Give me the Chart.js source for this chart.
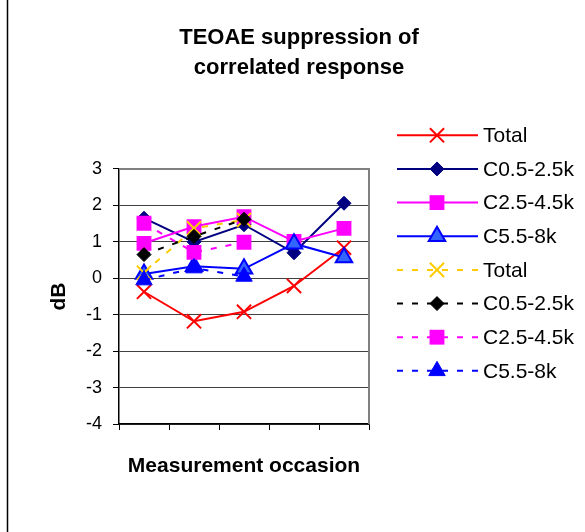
<!DOCTYPE html>
<html>
<head>
<meta charset="utf-8">
<script src="https://cdn.jsdelivr.net/npm/chart.js@4/dist/chart.umd.min.js"></script>
<style>
  html, body { margin: 0; padding: 0; background: #ffffff; }
  #wrap { width: 585px; height: 532px; position: relative; }
</style>
</head>
<body>
<div id="wrap"><canvas id="c" width="585" height="532"></canvas></div>
<script>
// ---- data ----
const categories = ['1', '2', '3', '4', '5'];
const yTicks = [-4, -3, -2, -1, 0, 1, 2, 3];
const seriesLabels = ['Total', 'C0.5-2.5k', 'C2.5-4.5k', 'C5.5-8k', 'Total', 'C0.5-2.5k', 'C2.5-4.5k', 'C5.5-8k'];

// solid series (5 occasions)
const totalA = [-0.37, -1.18, -0.92, -0.21, 0.84];
const c05A   = [1.65, 1.00, 1.47, 0.70, 2.06];
const c25A   = [0.96, 1.42, 1.69, 1.01, 1.37];
const c55A   = [0.12, 0.33, 0.26, 0.95, 0.57];
// dashed series (3 occasions)
const totalB = [0.15, 1.37, 1.60];
const c05B   = [0.65, 1.15, 1.62];
const c25B   = [1.51, 0.71, 0.99];
const c55B   = [-0.05, 0.28, 0.05];

const FONT = "'Liberation Sans', Arial, Helvetica, sans-serif";
const DASH = [6, 9];

function ds(label, data, color, style, radius, fill, dashed, order, borderCol, bw) {
  return {
    label: label,
    data: data,
    borderColor: color,
    borderWidth: 2,
    borderDash: dashed ? DASH : [],
    pointStyle: style,
    pointRadius: radius,
    pointHoverRadius: radius,
    pointBackgroundColor: fill,
    pointBorderColor: borderCol || (style === 'crossRot' ? color : fill),
    pointBorderWidth: bw,
    tension: 0,
    fill: false,
    spanGaps: false,
    order: order
  };
}

const datasets = [
  ds(seriesLabels[0], totalA, '#ff0000', 'crossRot', 10, '#ff0000', false, 8, '#ff0000', 2),
  ds(seriesLabels[1], c05A, '#000080', 'rectRot', 7, '#000080', false, 7, '#000080', 1),
  ds(seriesLabels[2], c25A, '#ff00ff', 'rect', 10.5, '#ff00ff', false, 6, '#ff00ff', 0),
  ds(seriesLabels[3], c55A, '#0000ff', 'triangle', 9.5, '#3366ff', false, 5, '#0000ff', 2),
  ds(seriesLabels[4], totalB, '#ffcc00', 'crossRot', 10, '#ffcc00', true, 4, '#ffcc00', 2),
  ds(seriesLabels[5], c05B, '#000000', 'rectRot', 7, '#000000', true, 3, '#000000', 1),
  ds(seriesLabels[6], c25B, '#ff00ff', 'rect', 10.5, '#ff00ff', true, 2, '#ff00ff', 0),
  ds(seriesLabels[7], c55B, '#0000ff', 'triangle', 9.5, '#0000ff', true, 1, '#0000ff', 1)
];

// plot frame (top/right grey border) + outer left frame line
const framePlugin = {
  id: 'frame',
  beforeDatasetsDraw(chart) {
    const a = chart.chartArea, ctx = chart.ctx;
    ctx.save();
    ctx.strokeStyle = '#808080';
    ctx.lineWidth = 2;
    ctx.beginPath();
    ctx.moveTo(a.left, a.top);
    ctx.lineTo(a.right, a.top);
    ctx.lineTo(a.right, a.bottom);
    ctx.stroke();
    ctx.restore();
  },
  afterDraw(chart) {
    const ctx = chart.ctx;
    ctx.save();
    ctx.strokeStyle = '#000000';
    ctx.lineWidth = 1.5;
    ctx.beginPath();
    ctx.moveTo(7.5, 0);
    ctx.lineTo(7.5, chart.height);
    ctx.stroke();
    ctx.restore();
  }
};

function drawMarker(ctx, d, x, y) {
  const r = d.pointRadius;
  ctx.save();
  ctx.setLineDash([]);
  ctx.fillStyle = d.pointBackgroundColor;
  ctx.strokeStyle = d.pointBorderColor;
  ctx.lineWidth = d.pointBorderWidth;
  ctx.beginPath();
  if (d.pointStyle === 'crossRot') {
    const s = r * Math.SQRT1_2;
    ctx.moveTo(x - s, y - s); ctx.lineTo(x + s, y + s);
    ctx.moveTo(x + s, y - s); ctx.lineTo(x - s, y + s);
    ctx.stroke();
  } else if (d.pointStyle === 'rectRot') {
    ctx.moveTo(x, y - r); ctx.lineTo(x + r, y); ctx.lineTo(x, y + r); ctx.lineTo(x - r, y); ctx.closePath();
    ctx.fill(); if (d.pointBorderWidth) ctx.stroke();
  } else if (d.pointStyle === 'rect') {
    const s = r * Math.SQRT1_2;
    ctx.rect(x - s, y - s, 2 * s, 2 * s);
    ctx.fill(); if (d.pointBorderWidth) ctx.stroke();
  } else if (d.pointStyle === 'triangle') {
    ctx.moveTo(x, y - r);
    ctx.lineTo(x + r * Math.sin(Math.PI * 2 / 3), y - r * Math.cos(Math.PI * 2 / 3));
    ctx.lineTo(x - r * Math.sin(Math.PI * 2 / 3), y - r * Math.cos(Math.PI * 2 / 3));
    ctx.closePath();
    ctx.fill(); if (d.pointBorderWidth) ctx.stroke();
  }
  ctx.restore();
}

const legendPlugin = {
  id: 'customLegend',
  afterDraw(chart) {
    const ctx = chart.ctx;
    const x0 = 397, x1 = 478, xm = 437, xt = 483;
    const top = 135.3, step = 33.65;
    ctx.save();
    chart.data.datasets.forEach((d, i) => {
      const y = top + i * step;
      ctx.save();
      ctx.strokeStyle = d.borderColor;
      ctx.lineWidth = d.borderWidth;
      ctx.setLineDash(d.borderDash || []);
      ctx.beginPath();
      ctx.moveTo(x0, y);
      ctx.lineTo(x1, y);
      ctx.stroke();
      ctx.restore();
      drawMarker(ctx, d, xm, y);
      ctx.fillStyle = '#000000';
      ctx.font = '21px ' + FONT;
      ctx.textAlign = 'left';
      ctx.textBaseline = 'middle';
      ctx.fillText(d.label, xt, y + 1);
    });
    ctx.restore();
  }
};

new Chart(document.getElementById('c'), {
  type: 'line',
  data: { labels: categories, datasets: datasets },
  options: {
    responsive: false,
    animation: false,
    layout: { padding: { left: 13, right: 0, top: 0, bottom: 0 } },
    plugins: {
      legend: { display: false },
      tooltip: { enabled: false },
      title: {
        display: true,
        text: ['TEOAE suppression of', 'correlated response'],
        color: '#000000',
        font: { family: FONT, size: 22, weight: 'bold', lineHeight: 1.3636 },
        padding: { top: 23, bottom: 86 }
      }
    },
    scales: {
      x: {
        type: 'category',
        offset: true,
        grid: {
          display: true,
          offset: true,
          drawOnChartArea: false,
          drawTicks: true,
          tickLength: 6,
          tickColor: '#000000',
          lineWidth: 1
        },
        border: { display: true, color: '#000000', width: 1.5 },
        ticks: { display: false },
        title: {
          display: true,
          text: 'Measurement occasion',
          color: '#000000',
          font: { family: FONT, size: 21, weight: 'bold', lineHeight: 1.2 },
          padding: { top: 0, bottom: 53 }
        },
        afterFit(s) { s.height = 108; }
      },
      y: {
        type: 'linear',
        min: yTicks[0],
        max: yTicks[yTicks.length - 1],
        afterBuildTicks(s) { s.ticks = yTicks.map(v => ({ value: v })); },
        grid: {
          color: '#404040',
          lineWidth: 1,
          drawTicks: true,
          tickLength: 6,
          tickColor: '#000000'
        },
        border: { display: true, color: '#000000', width: 1.5 },
        ticks: {
          color: '#000000',
          font: { family: FONT, size: 18 },
          padding: 11,
          callback: v => String(v)
        },
        title: {
          display: true,
          text: 'dB',
          color: '#000000',
          font: { family: FONT, size: 21, weight: 'bold', lineHeight: 1.2 },
          padding: { top: 34, bottom: 0 }
        },
        afterFit(s) { s.width = 106; }
      },
      y2: {
        type: 'linear',
        position: 'right',
        display: true,
        grid: { display: false, drawOnChartArea: false, drawTicks: false },
        border: { display: false },
        ticks: { display: false },
        afterFit(s) { s.width = 216; }
      }
    }
  },
  plugins: [framePlugin, legendPlugin]
});
</script>
</body>
</html>
